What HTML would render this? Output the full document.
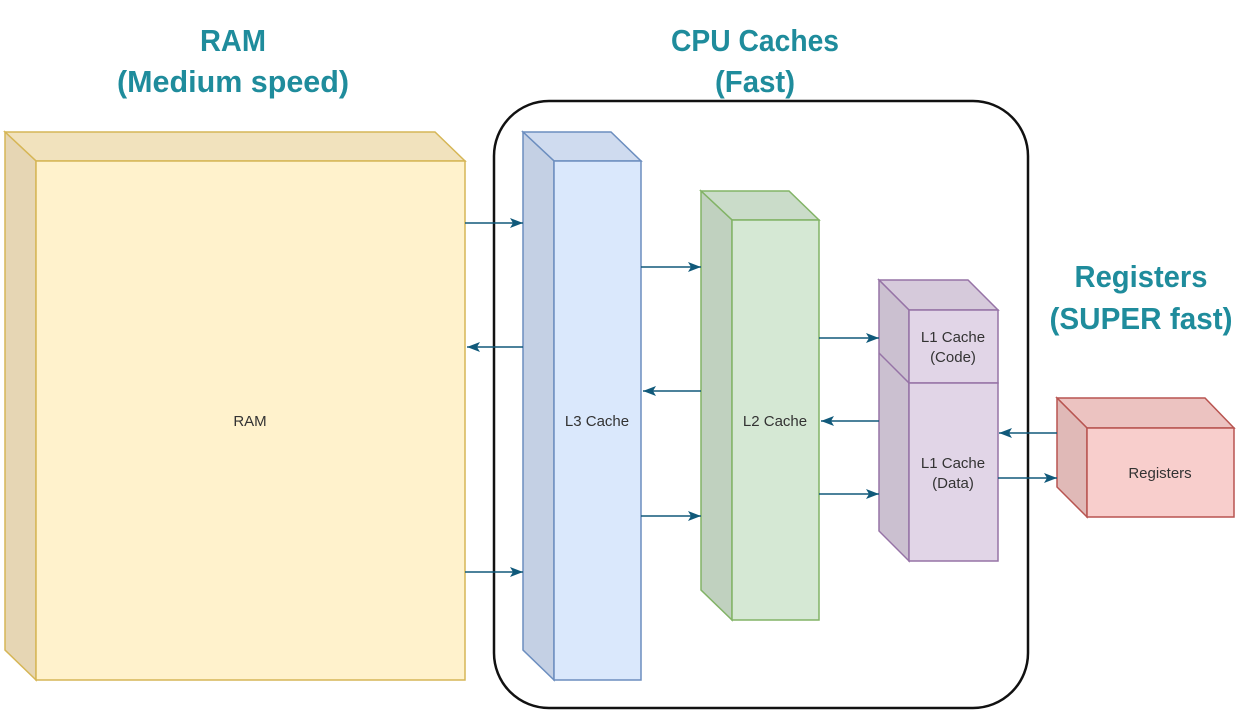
<!DOCTYPE html>
<html><head><meta charset="utf-8"><style>
html,body{margin:0;padding:0;background:#fff;width:1244px;height:725px;overflow:hidden}
</style></head><body>
<svg width="1244" height="725" viewBox="0 0 1244 725" xmlns="http://www.w3.org/2000/svg">
<defs>
<marker id="a" markerWidth="14" markerHeight="12" refX="13" refY="6" orient="auto" markerUnits="userSpaceOnUse">
<path d="M0,1 L13,6 L0,11 L3,6 Z" fill="#10597a"/>
</marker>
</defs>
<g font-family="'Liberation Sans',sans-serif" font-weight="bold" font-size="31" fill="#1f8c9c" text-anchor="middle">
<text x="233" y="51" textLength="66" lengthAdjust="spacingAndGlyphs">RAM</text>
<text x="233" y="92" textLength="232" lengthAdjust="spacingAndGlyphs">(Medium speed)</text>
<text x="755" y="51" textLength="168" lengthAdjust="spacingAndGlyphs">CPU Caches</text>
<text x="755" y="92" textLength="80" lengthAdjust="spacingAndGlyphs">(Fast)</text>
<text x="1141" y="287" textLength="133" lengthAdjust="spacingAndGlyphs">Registers</text>
<text x="1141" y="329" textLength="183" lengthAdjust="spacingAndGlyphs">(SUPER fast)</text>
</g>
<rect x="494" y="101" width="534" height="607" rx="55" fill="none" stroke="#111" stroke-width="2.5"/>
<g stroke-width="1.5">
<polygon points="5,132 435,132 465,161 36,161" fill="#f1e2bd" stroke="#d6b656"/>
<polygon points="5,132 36,161 36,680 5,650" fill="#e6d6b4" stroke="#d6b656"/>
<rect x="36" y="161" width="429" height="519" fill="#fff2cc" stroke="#d6b656"/>
<polygon points="523,132 611,132 641,161 554,161" fill="#cfdbef" stroke="#6c8ebf"/>
<polygon points="523,132 554,161 554,680 523,650" fill="#c4d0e4" stroke="#6c8ebf"/>
<rect x="554" y="161" width="87" height="519" fill="#dae8fc" stroke="#6c8ebf"/>
<polygon points="701,191 789,191 819,220 732,220" fill="#cadcc9" stroke="#82b366"/>
<polygon points="701,191 732,220 732,620 701,590" fill="#c0d1bf" stroke="#82b366"/>
<rect x="732" y="220" width="87" height="400" fill="#d5e8d4" stroke="#82b366"/>
<polygon points="879,280 968,280 998,310 909,310" fill="#d6cadb" stroke="#9673a6"/>
<polygon points="879,280 909,310 909,561 879,531" fill="#cbc0d0" stroke="#9673a6"/>
<line x1="879" y1="353" x2="909" y2="383" stroke="#9673a6"/>
<rect x="909" y="310" width="89" height="73" fill="#e1d5e7" stroke="#9673a6"/>
<rect x="909" y="383" width="89" height="178" fill="#e1d5e7" stroke="#9673a6"/>
<polygon points="1057,398 1205,398 1234,428 1087,428" fill="#ecc3c1" stroke="#b85450"/>
<polygon points="1057,398 1087,428 1087,517 1057,487" fill="#e0b9b7" stroke="#b85450"/>
<rect x="1087" y="428" width="147" height="89" fill="#f8cecc" stroke="#b85450"/>
</g>
<g stroke="#10597a" stroke-width="1.5" marker-end="url(#a)">
<line x1="465" y1="223" x2="523" y2="223"/>
<line x1="523" y1="347" x2="467" y2="347"/>
<line x1="465" y1="572" x2="523" y2="572"/>
<line x1="641" y1="267" x2="701" y2="267"/>
<line x1="701" y1="391" x2="643" y2="391"/>
<line x1="641" y1="516" x2="701" y2="516"/>
<line x1="819" y1="338" x2="879" y2="338"/>
<line x1="879" y1="421" x2="821" y2="421"/>
<line x1="819" y1="494" x2="879" y2="494"/>
<line x1="1057" y1="433" x2="999" y2="433"/>
<line x1="998" y1="478" x2="1057" y2="478"/>
</g>
<g font-family="'Liberation Sans',sans-serif" font-size="15" fill="#333" text-anchor="middle">
<text x="250" y="426">RAM</text>
<text x="597" y="426">L3 Cache</text>
<text x="775" y="426">L2 Cache</text>
<text x="953" y="342">L1 Cache</text>
<text x="953" y="362">(Code)</text>
<text x="953" y="468">L1 Cache</text>
<text x="953" y="488">(Data)</text>
<text x="1160" y="478">Registers</text>
</g>
</svg>
</body></html>
